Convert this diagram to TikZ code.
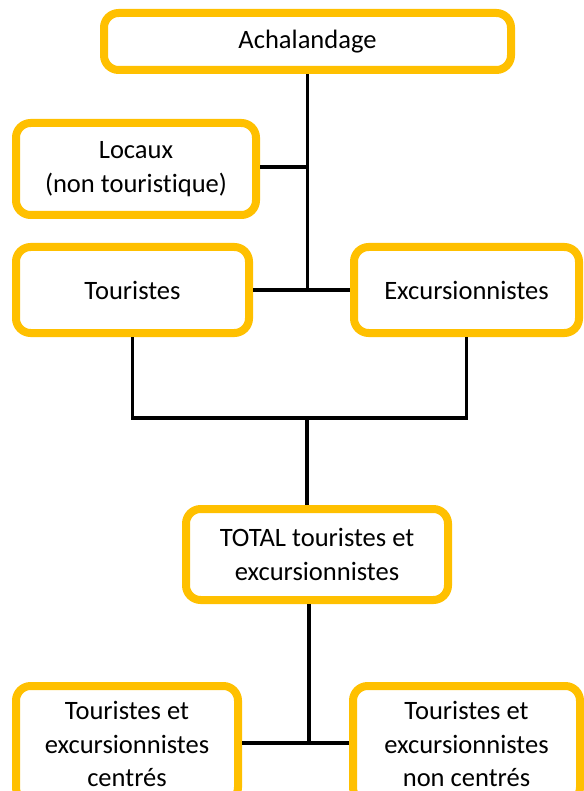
\documentclass[tikz,border=0pt]{standalone}
\usepackage{fontspec}
\setmainfont{Carlito}[Ligatures=CommonOff]
\usepackage{xcolor}
\usetikzlibrary{positioning,calc}
\definecolor{boxgold}{HTML}{FFC000}

\begin{document}
\begin{tikzpicture}[
    x=0.75pt, y=-0.75pt,
    box/.style={rectangle, draw=boxgold, line width=6pt, rounded corners=11pt, fill=white, inner sep=0pt, align=center, font=\fontsize{19.9pt}{25pt}\selectfont},
    link/.style={line width=2.6pt, black}
]
\useasboundingbox (0,0) rectangle (584,791);

% Top
\node[box, minimum width=407*0.75pt, minimum height=57*0.75pt] (ach) at (307.5,41.5) {Achalandage};

% Segments
\node[box, minimum width=240*0.75pt, minimum height=92*0.75pt] (loc) at (136,169) {Locaux\\(non touristique)};
\node[box, minimum width=233*0.75pt, minimum height=86*0.75pt] (tou) at (132.5,290) {Touristes};
\node[box, minimum width=225*0.75pt, minimum height=86*0.75pt] (exc) at (466.5,290) {Excursionnistes};

% Total
\node[box, minimum width=262*0.75pt, minimum height=91*0.75pt] (tot) at (317,554.5) {TOTAL touristes et\\excursionnistes};

% Bottom
\node[box, minimum width=222*0.75pt, minimum height=116*0.75pt] (cen) at (127,744) {Touristes et\\excursionnistes\\centrés};
\node[box, minimum width=227*0.75pt, minimum height=116*0.75pt] (ncen) at (466.5,744) {Touristes et\\excursionnistes\\non centrés};

% Junctions
\coordinate (j1) at (ach.south |- tou.east);
\coordinate (j2) at (307,418);
\coordinate (j3) at (309,743);

% Lines
\draw[link] (ach.south) -- (j1);
\draw[link, line width=3.6pt] (loc.east |- 0,167) -- (ach.south |- 0,167);
\draw[link] (tou.east) -- (exc.west);
\draw[link] (tou.south) |- (j2) -| (exc.south);
\draw[link] (j2) -- (j2 |- tot.north);
\draw[link] (j3 |- tot.south) -- (j3);
\draw[link] (cen.east |- j3) -- (ncen.west |- j3);

\end{tikzpicture}
\end{document}
